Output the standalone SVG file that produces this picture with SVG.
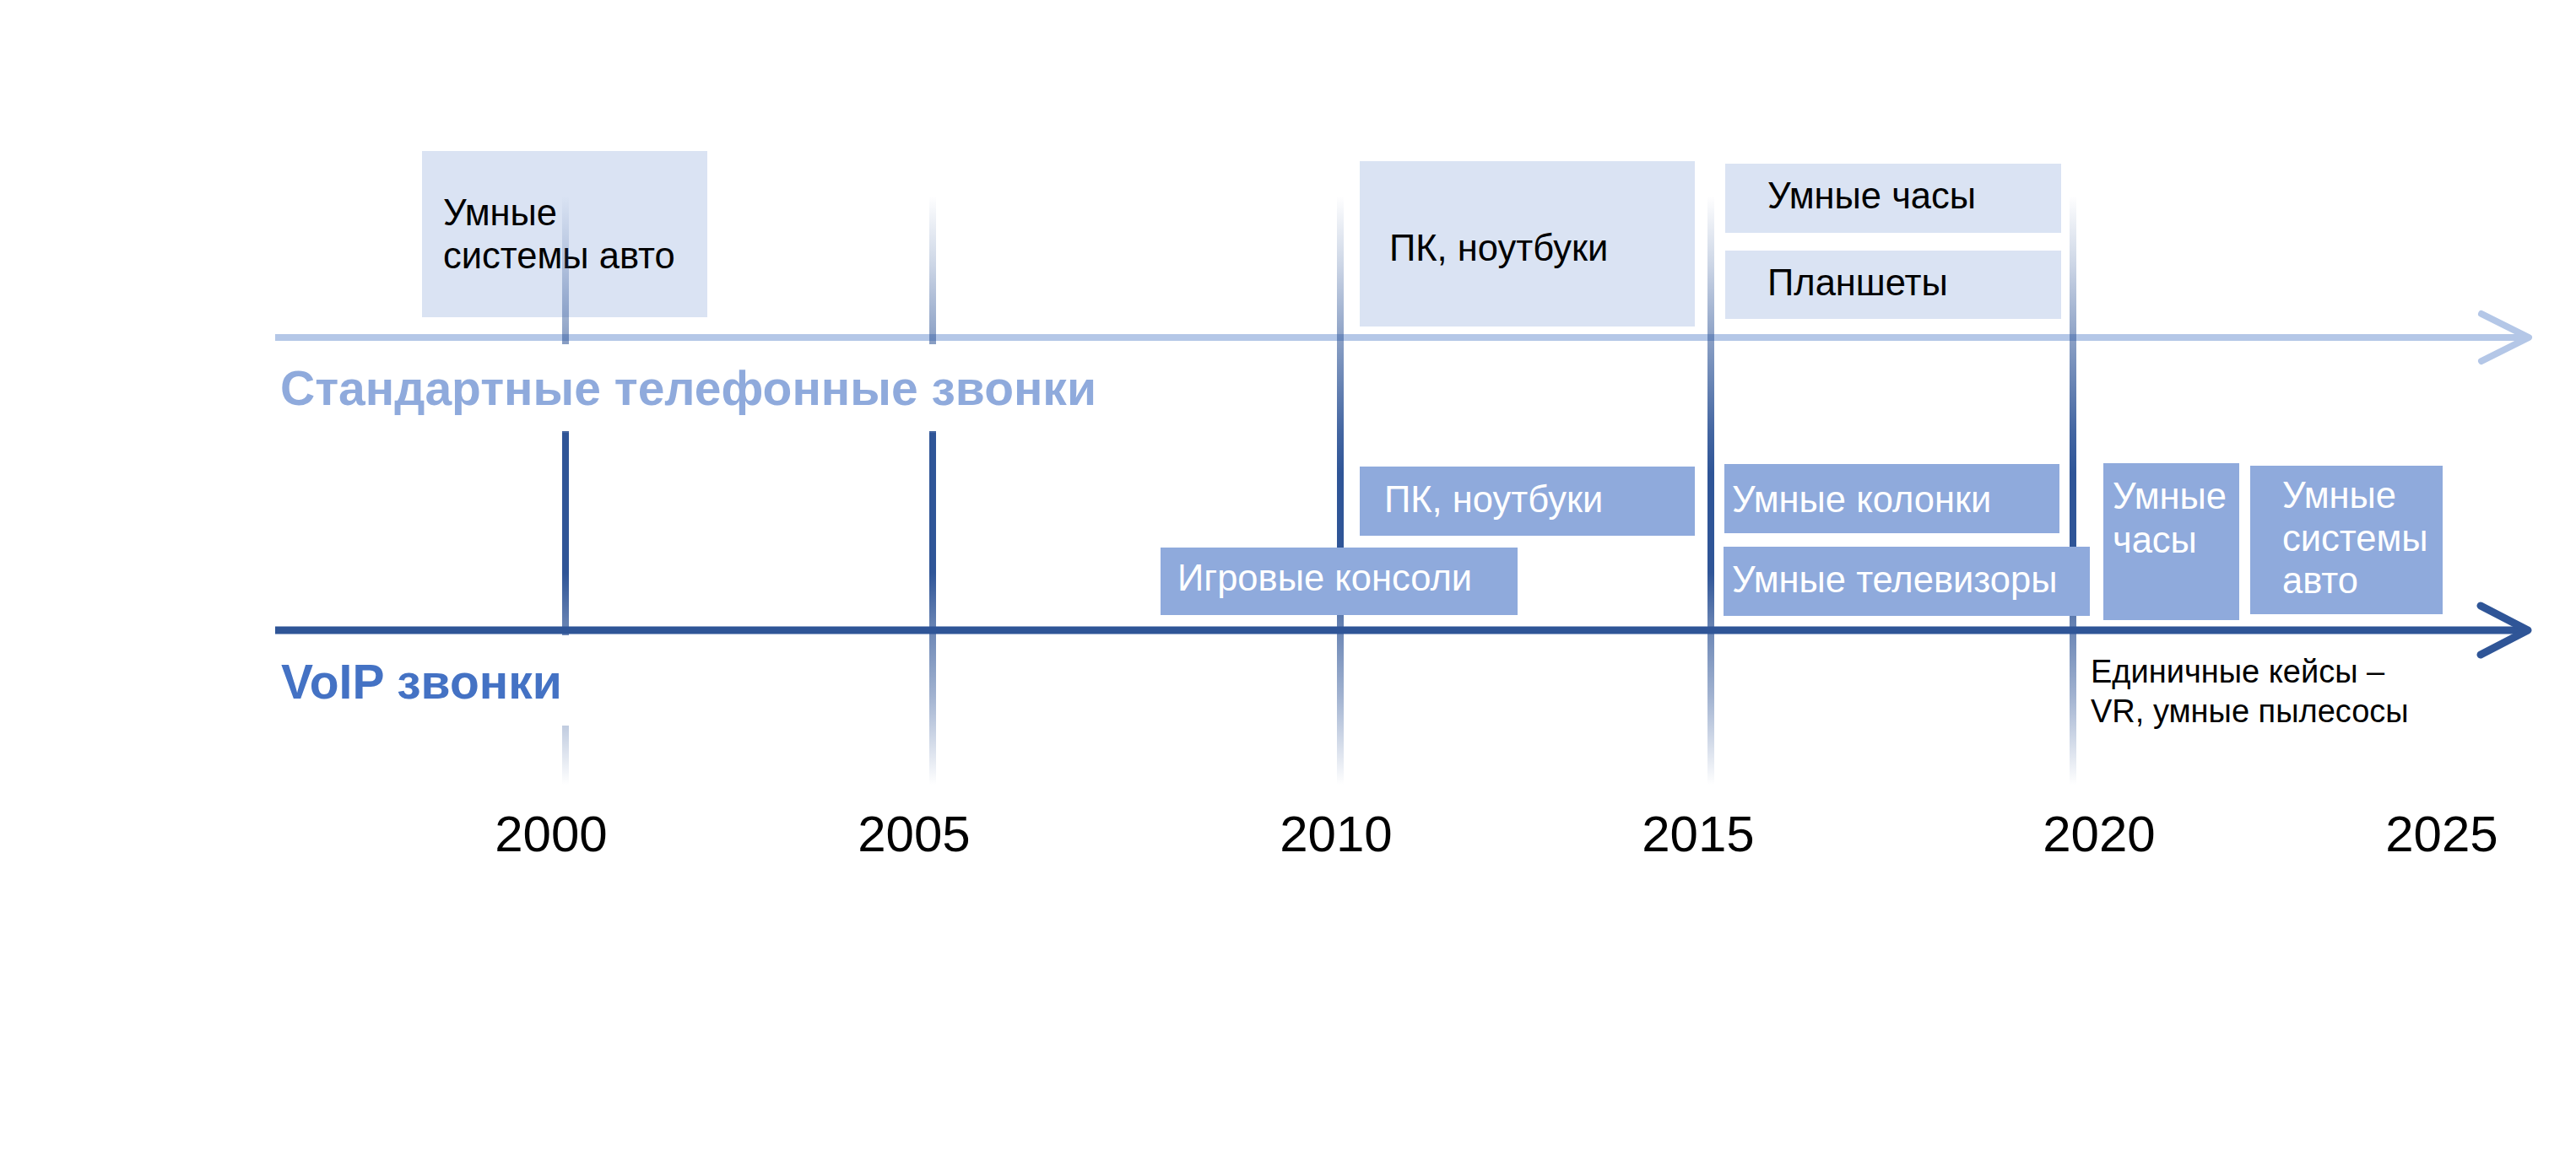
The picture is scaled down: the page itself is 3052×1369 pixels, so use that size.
<svg xmlns="http://www.w3.org/2000/svg" width="3052" height="1369" viewBox="0 0 3052 1369">
<defs>
<linearGradient id="tick" gradientUnits="userSpaceOnUse" x1="0" y1="232" x2="0" y2="930">
<stop offset="0" stop-color="#2F5597" stop-opacity="0"/>
<stop offset="0.12" stop-color="#2F5597" stop-opacity="0.25"/>
<stop offset="0.24" stop-color="#2F5597" stop-opacity="0.55"/>
<stop offset="0.40" stop-color="#2F5597" stop-opacity="0.9"/>
<stop offset="0.47" stop-color="#2F5597" stop-opacity="1"/>
<stop offset="0.64" stop-color="#2F5597" stop-opacity="1"/>
<stop offset="0.74" stop-color="#2F5597" stop-opacity="0.7"/>
<stop offset="0.85" stop-color="#2F5597" stop-opacity="0.45"/>
<stop offset="1" stop-color="#2F5597" stop-opacity="0"/>
</linearGradient>
<marker id="arrUp" markerUnits="userSpaceOnUse" markerWidth="80" markerHeight="80" viewBox="-70 -40 80 80" refX="0" refY="0" orient="auto" overflow="visible">
<path d="M-56,-28 L0,0 L-56,28" fill="none" stroke="#B4C7E7" stroke-width="8" stroke-linecap="round" stroke-linejoin="round"/>
</marker>
<marker id="arrLo" markerUnits="userSpaceOnUse" markerWidth="80" markerHeight="80" viewBox="-70 -40 80 80" refX="0" refY="0" orient="auto" overflow="visible">
<path d="M-56,-29 L0,0 L-56,29" fill="none" stroke="#2F5597" stroke-width="9" stroke-linecap="round" stroke-linejoin="round"/>
</marker>
<style>
.lt{fill:#DAE3F3}
.dk{fill:#8FAADC}
.t{font-family:"Liberation Sans",Arial,sans-serif;font-size:43.5px}
.tb{fill:#000000}
.tw{fill:#FFFFFF}
.tick{stroke:url(#tick);stroke-width:8;fill:none}
.seg{stroke:#2F5597;stroke-width:8}
.yr{font-family:"Liberation Sans",Arial,sans-serif;font-size:60px;fill:#000;text-anchor:middle}
.hd{font-family:"Liberation Sans",Arial,sans-serif;font-size:57px;font-weight:bold}
.nt{font-family:"Liberation Sans",Arial,sans-serif;font-size:38px;fill:#000}
</style>
</defs>
<rect width="3052" height="1369" fill="#FFFFFF"/>
<g id="connectors">
<line id="axis-standard" x1="326" y1="400" x2="2996" y2="400" stroke="#B4C7E7" stroke-width="8" marker-end="url(#arrUp)"/>
<line id="axis-voip" x1="326" y1="747" x2="2995" y2="747" stroke="#2F5597" stroke-width="9" marker-end="url(#arrLo)"/>
</g>
<g id="node-std-auto"><rect class="lt" x="500" y="179" width="338" height="197"/><text class="t tb" x="525" y="267">Умные</text><text class="t tb" x="525" y="318">системы авто</text></g>
<g id="node-std-pc"><rect class="lt" x="1611" y="191" width="397" height="196"/><text class="t tb" x="1646" y="309">ПК, ноутбуки</text></g>
<g id="node-std-watch"><rect class="lt" x="2044" y="194" width="398" height="82"/><text class="t tb" x="2094" y="247">Умные часы</text></g>
<g id="node-std-tablet"><rect class="lt" x="2044" y="297" width="398" height="81"/><text class="t tb" x="2094" y="350">Планшеты</text></g>
<g id="ticks">
<line class="tick" x1="670" y1="232" x2="670" y2="930"/>
<line class="tick" x1="1105" y1="232" x2="1105" y2="930"/>
<line class="tick" x1="1588" y1="232" x2="1588" y2="930"/>
<line class="tick" x1="2027" y1="232" x2="2027" y2="930"/>
<line class="tick" x1="2456" y1="232" x2="2456" y2="930"/>
<line class="seg" x1="670" y1="513" x2="670" y2="658"/>
<line class="seg" x1="1105" y1="513" x2="1105" y2="658"/>
</g>
<g id="label-standard"><rect x="326" y="408" width="980" height="103" fill="#FFFFFF"/><text class="hd" x="332" y="480" fill="#8FAADC">Стандартные телефонные звонки</text></g>
<g id="label-voip"><rect x="326" y="753" width="364" height="107" fill="#FFFFFF"/><text class="hd" x="333" y="828" fill="#4472C4">VoIP звонки</text></g>
<g id="node-voip-pc"><rect class="dk" x="1611" y="553" width="397" height="82"/><text class="t tw" x="1640" y="607">ПК, ноутбуки</text></g>
<g id="node-voip-console"><rect class="dk" x="1375" y="649" width="423" height="80"/><text class="t tw" x="1395" y="700">Игровые консоли</text></g>
<g id="node-voip-speaker"><rect class="dk" x="2043" y="550" width="397" height="82"/><text class="t tw" x="2052" y="607">Умные колонки</text></g>
<g id="node-voip-tv"><rect class="dk" x="2042" y="648" width="434" height="82"/><text class="t tw" x="2052" y="702">Умные телевизоры</text></g>
<g id="node-voip-watch"><rect class="dk" x="2492" y="549" width="161" height="186"/><text class="t tw" x="2503" y="603">Умные</text><text class="t tw" x="2503" y="655">часы</text></g>
<g id="node-voip-auto"><rect class="dk" x="2666" y="552" width="228" height="176"/><text class="t tw" x="2704" y="602">Умные</text><text class="t tw" x="2704" y="653">системы</text><text class="t tw" x="2704" y="703">авто</text></g>
<g id="note-single"><text class="nt" x="2477" y="809">Единичные кейсы –</text><text class="nt" x="2477" y="856">VR, умные пылесосы</text></g>
<g id="years">
<text class="yr" x="653" y="1009">2000</text>
<text class="yr" x="1083" y="1009">2005</text>
<text class="yr" x="1583" y="1009">2010</text>
<text class="yr" x="2012" y="1009">2015</text>
<text class="yr" x="2487" y="1009">2020</text>
<text class="yr" x="2893" y="1009">2025</text>
</g>
</svg>
